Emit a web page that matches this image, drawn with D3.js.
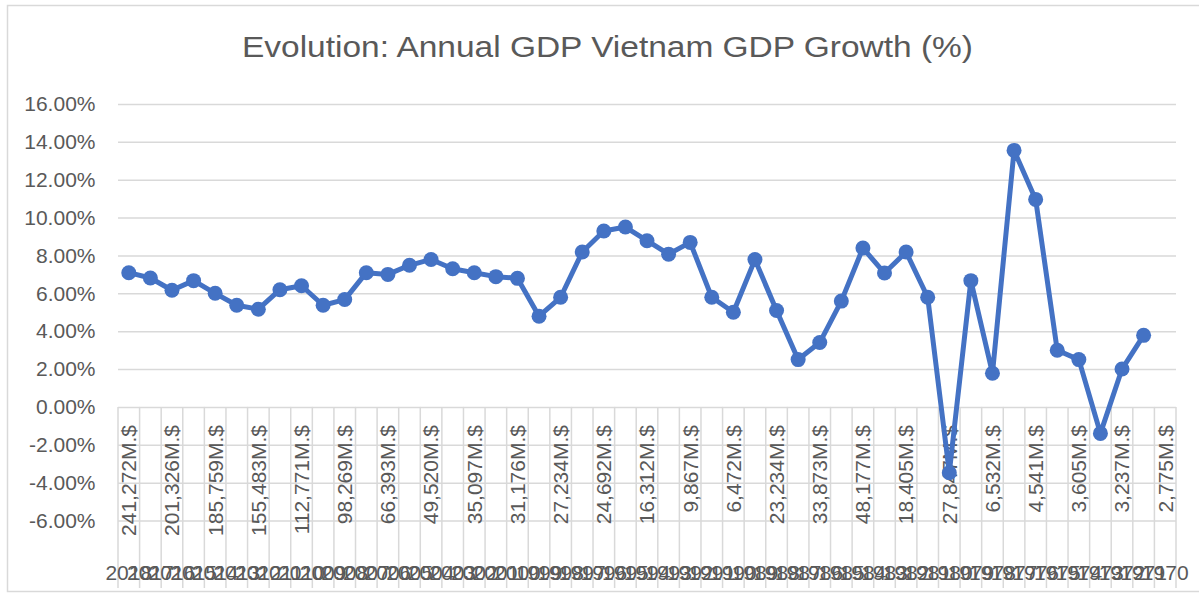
<!DOCTYPE html>
<html>
<head>
<meta charset="utf-8">
<script src="https://cdn.jsdelivr.net/npm/d3@7"></script>
<style>
body { margin: 0; background: #fff; }
text { font-family: "Liberation Sans", Arial, sans-serif; fill: #595959; }
</style>
</head>
<body>
<script>
let years = [2018, 2017, 2016, 2015, 2014, 2013, 2012, 2011, 2010, 2009,
  2008, 2007, 2006, 2005, 2004, 2003, 2002, 2001, 2000, 1999,
  1998, 1997, 1996, 1995, 1994, 1993, 1992, 1991, 1990, 1989,
  1988, 1987, 1986, 1985, 1984, 1983, 1982, 1981, 1980, 1979,
  1978, 1977, 1976, 1975, 1974, 1973, 1972, 1971, 1970];

// growth in %, 1970 has no value
let growth = [7.09, 6.81, 6.16, 6.67, 6.0, 5.37, 5.16, 6.19, 6.4, 5.37,
  5.67, 7.09, 7.0, 7.48, 7.79, 7.3, 7.09, 6.88, 6.79, 4.79,
  5.79, 8.18, 9.29, 9.5, 8.78, 8.07, 8.69, 5.79, 5.0, 7.78,
  5.09, 2.5, 3.4, 5.59, 8.39, 7.07, 8.18, 5.79, -3.48, 6.67,
  1.78, 13.55, 10.96, 2.99, 2.5, -1.4, 2.0, 3.78, null];

// inner axis level, only every other label is shown
let gdpYears = [2018, 2016, 2014, 2012, 2010, 2008, 2006, 2004, 2002, 2000,
  1998, 1996, 1994, 1992, 1990, 1988, 1986, 1984, 1982, 1980,
  1978, 1976, 1974, 1972, 1970];
let gdpLabels = ['241,272M.$', '201,326M.$', '185,759M.$', '155,483M.$', '112,771M.$',
  '98,269M.$', '66,393M.$', '49,520M.$', '35,097M.$', '31,176M.$',
  '27,234M.$', '24,692M.$', '16,312M.$', '9,867M.$', '6,472M.$',
  '23,234M.$', '33,873M.$', '48,177M.$', '18,405M.$', '27,847M.$',
  '6,532M.$', '4,541M.$', '3,605M.$', '3,237M.$', '2,775M.$'];

let yTicks = [-6, -4, -2, 0, 2, 4, 6, 8, 10, 12, 14, 16];

let width = 1199;
let height = 593;
let plotLeft = 118, plotRight = 1176, plotTop = 104, plotBottom = 520.5;

let locale = d3.formatLocale({decimal: '.', thousands: ',', grouping: [3], currency: ['$', ''], minus: '-'});
let pct = locale.format('.2%');

let x = d3.scaleBand()
.domain(years)
.range([plotLeft, plotRight])
.padding(0);

let y = d3.scaleLinear()
.domain([-6, 16])
.range([plotBottom, plotTop]);

let bw = x.bandwidth();

let svg = d3.select('body')
.append('svg')
.attr('width', width)
.attr('height', height);

// chart border
svg.append('rect')
.attr('x', 7.5)
.attr('y', 5.5)
.attr('width', 1200)
.attr('height', 586)
.attr('fill', 'none')
.attr('stroke', '#d9d9d9')
.attr('stroke-width', 1.5);

svg.append('text')
.attr('x', 242)
.attr('y', 57)
.attr('font-size', 29)
.attr('textLength', 731)
.attr('lengthAdjust', 'spacingAndGlyphs')
.text('Evolution: Annual GDP Vietnam GDP Growth (%)');

// gridlines + y labels
let yAxis = svg.append('g')
.attr('transform', 'translate(' + plotLeft + ',0)')
.call(d3.axisLeft(y).tickValues(yTicks).tickSize(-(plotRight - plotLeft)).tickPadding(22.5).tickFormat(function(d){ return pct(d / 100); }));

yAxis.select('.domain').remove();
yAxis.selectAll('line').attr('stroke', '#d9d9d9').attr('stroke-width', 1.5);
yAxis.selectAll('text').attr('font-size', 21).attr('fill', '#595959');

// category separators below the 0 line
let bounds = years.map(function(d){ return x(d); }).concat([plotRight]);
svg.append('g')
.selectAll('line')
.data(bounds)
.enter()
.append('line')
.attr('x1', function(d){ return d; })
.attr('x2', function(d){ return d; })
.attr('y1', y(0))
.attr('y2', 588)
.attr('stroke', '#d9d9d9')
.attr('stroke-width', 1.5);

// inner level labels (rotated)
svg.append('g')
.selectAll('text')
.data(gdpLabels)
.enter()
.append('text')
.attr('transform', function(d, i){
  return 'translate(' + (x(gdpYears[i]) + bw / 2) + ',425) rotate(-90)';
})
.attr('text-anchor', 'end')
.attr('dy', '0.35em')
.attr('font-size', 21)
.text(function(d){ return d; });

// outer level labels
svg.append('g')
.selectAll('text')
.data(years)
.enter()
.append('text')
.attr('x', function(d){ return x(d) + bw / 2; })
.attr('y', 580)
.attr('text-anchor', 'middle')
.attr('font-size', 21)
.text(function(d){ return d; });

// series
let pts = years.map(function(d, i){ return {year: d, v: growth[i]}; });

let line = d3.line()
.defined(function(d){ return d.v !== null; })
.x(function(d){ return x(d.year) + bw / 2; })
.y(function(d){ return y(d.v); });

svg.append('path')
.datum(pts)
.attr('d', line)
.attr('fill', 'none')
.attr('stroke', '#4472c4')
.attr('stroke-width', 5)
.attr('stroke-linejoin', 'round');

svg.append('g')
.selectAll('circle')
.data(pts.filter(function(d){ return d.v !== null; }))
.enter()
.append('circle')
.attr('cx', function(d){ return x(d.year) + bw / 2; })
.attr('cy', function(d){ return y(d.v); })
.attr('r', 7.5)
.attr('fill', '#4472c4');
</script>
</body>
</html>
